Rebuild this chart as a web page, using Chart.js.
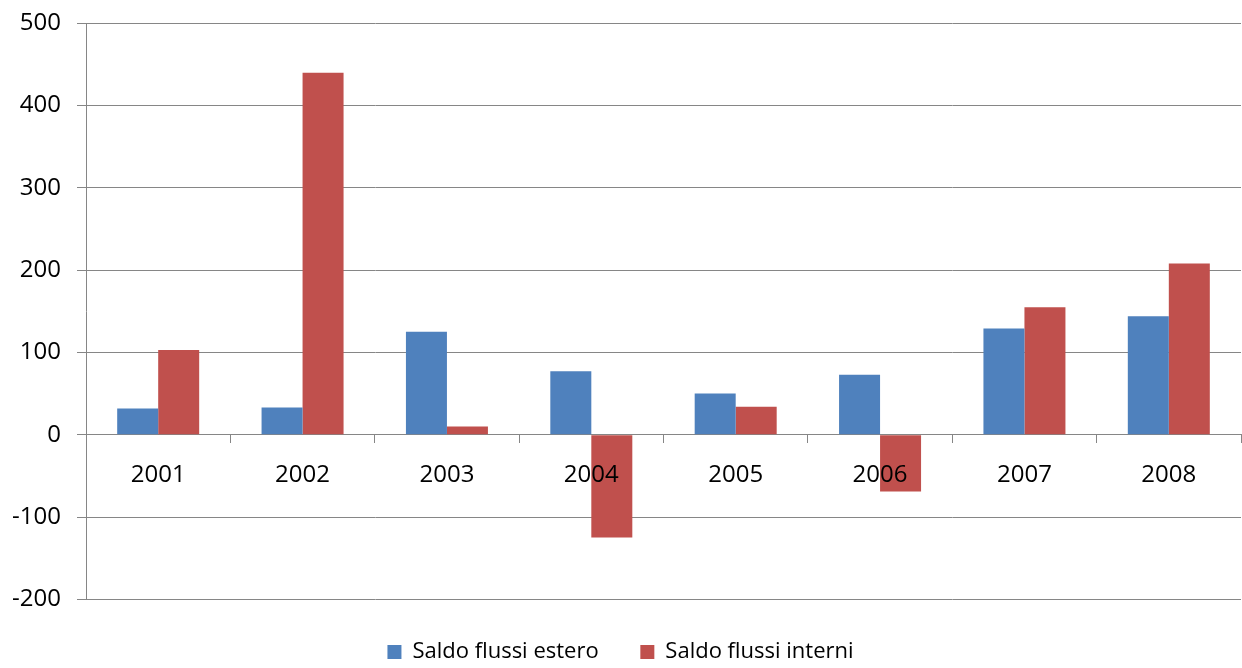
<!DOCTYPE html>
<html>
<head>
<meta charset="utf-8">
<script src="https://cdn.jsdelivr.net/npm/chart.js@4/dist/chart.umd.min.js"></script>
<style>
html,body{margin:0;padding:0;background:#fff;}
#wrap{width:1242px;height:668px;position:relative;}
</style>
</head>
<body>
<div id="wrap"><canvas id="c" width="1242" height="668"></canvas></div>
<script>
const categories = ['2001','2002','2003','2004','2005','2006','2007','2008'];
const saldoEstero = [32, 33, 125, 77, 50, 73, 129, 144];
const saldoInterni = [103, 440, 10, -125, 34, -69, 155, 208];
const seriesNames = ['Saldo flussi estero', 'Saldo flussi interni'];
const yTicks = [-200, -100, 0, 100, 200, 300, 400, 500];

const gridColor = '#868686';
const FONT = '"Open Sans", "Liberation Sans", sans-serif';

new Chart(document.getElementById('c'), {
  type: 'bar',
  data: {
    labels: categories,
    datasets: [
      { label: seriesNames[0], data: saldoEstero, backgroundColor: '#4F81BD', borderWidth: 0,
        categoryPercentage: 0.568, barPercentage: 1.0 },
      { label: seriesNames[1], data: saldoInterni, backgroundColor: '#C0504D', borderWidth: 0,
        categoryPercentage: 0.568, barPercentage: 1.0 }
    ]
  },
  options: {
    responsive: false,
    animation: false,
    devicePixelRatio: 1,
    layout: { padding: { top: 23.3, left: 0, right: 1, bottom: -5 } },
    plugins: {
      legend: {
        position: 'bottom',
        labels: {
          boxWidth: 14, boxHeight: 14, padding: 41.7,
          color: '#000',
          font: { family: FONT, size: 22 }
        }
      },
      tooltip: { enabled: false }
    },
    scales: {
      x: {
        position: { y: 0 },
        offset: true,
        grid: { display: true, offset: true, drawOnChartArea: false, drawTicks: true, tickLength: 8, color: gridColor, lineWidth: 1 },
        border: { display: true, color: gridColor, width: 1 },
        ticks: { z: 1, color: '#000', padding: 18, font: { family: FONT, size: 24 }, maxRotation: 0 }
      },
      y: {
        min: -200, max: 500,
        afterFit: s => { s.width = 86; s.paddingTop = 0; s.paddingBottom = 0; },
        afterBuildTicks: s => { s.ticks = yTicks.map(v => ({ value: v })); },
        grid: { color: gridColor, lineWidth: 1, tickLength: 9, drawTicks: true },
        border: { display: true, color: gridColor, width: 1 },
        ticks: { stepSize: 100, color: '#000', padding: 16, font: { family: FONT, size: 24 } }
      }
    }
  }
});
</script>
</body>
</html>
